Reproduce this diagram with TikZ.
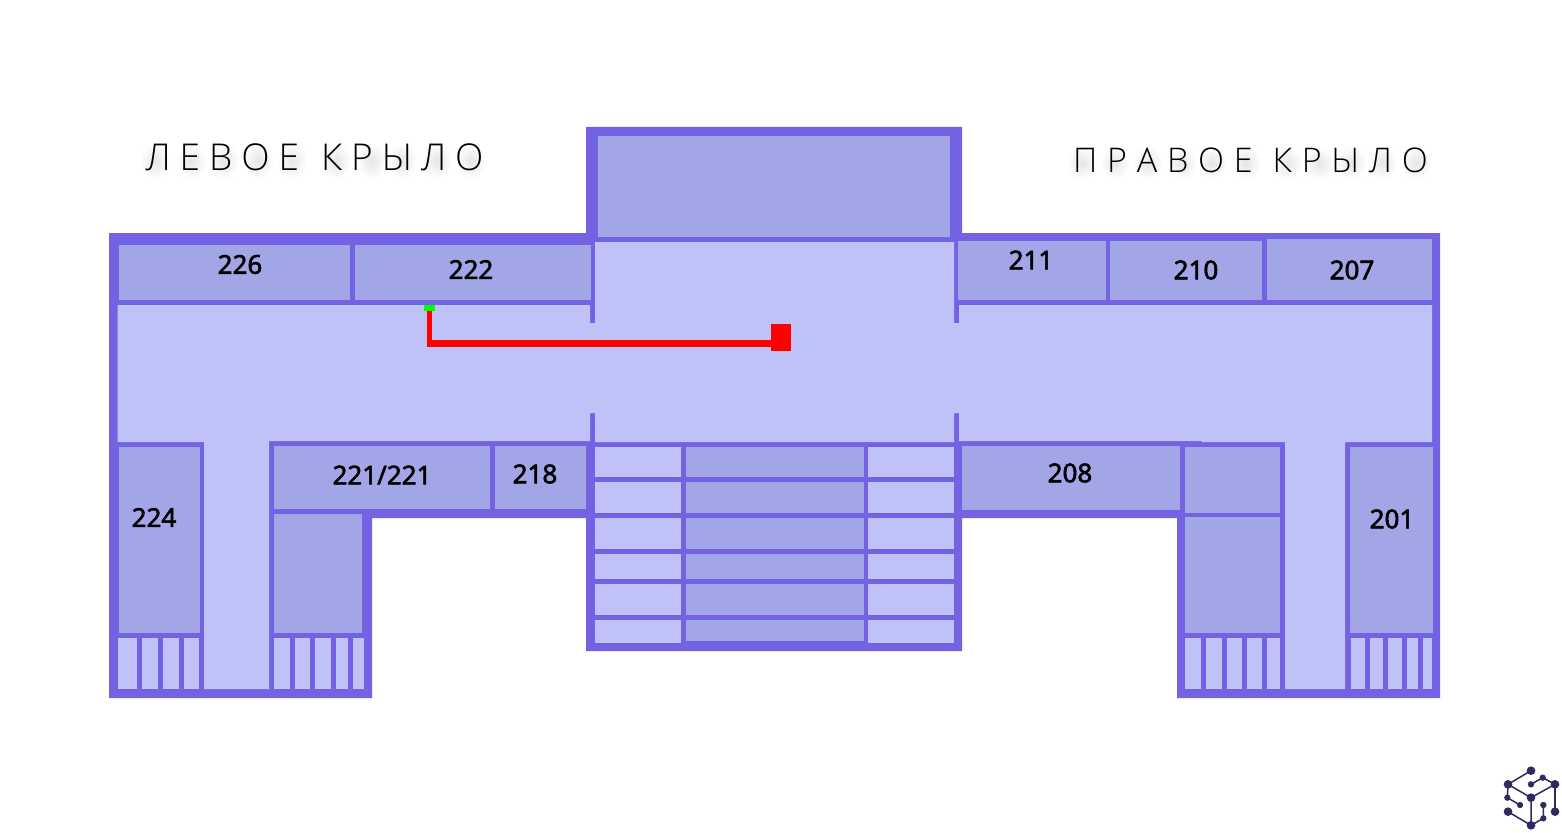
\documentclass[tikz,border=0pt]{standalone}
\usepackage{fontspec}
\setmainfont{Noto Sans}
\newfontfamily\labfont{Noto Sans}
\newfontfamily\headfont{Open Sans Light}
\newcommand{\leftset}{\spaceskip=9pt\relax}
\newcommand{\rightset}{\spaceskip=9.8pt\relax}
\newcommand{\medium}[1]{\special{pdf:code q 2 Tr 0.55 w 0 0 0 RG}#1\special{pdf:code Q}}
\definecolor{wallc}{HTML}{7363E3}
\definecolor{corrc}{HTML}{BFC2F7}
\definecolor{roomc}{HTML}{A3A6E6}
\definecolor{logoc}{HTML}{2E2B5F}
\tikzset{
  roomfill/.style={fill=roomc},
  corrfill/.style={fill=corrc},
  roomlabel/.style={inner sep=0pt,font=\labfont\fontsize{26}{26}\selectfont,text=black},
  wing/.style={inner sep=0pt,text=black},
  logoedge/.style={draw=logoc,line width=1.5pt},
}
\begin{document}
\begin{tikzpicture}[x=1pt,y=-1pt]
\useasboundingbox (0,0) rectangle (1562,832);
\fill[white] (0,0) rectangle (1562,832);
% walls
\fill[wallc] (109,233) -- (586,233) -- (586,127) -- (962,127) -- (962,233) -- (1440,233) -- (1440,698) -- (1177,698) -- (1177,518) -- (962,518) -- (962,651) -- (586,651) -- (586,518) -- (372,518) -- (372,698) -- (109,698) -- cycle;
% corridor
\fill[corrfill] (117.5,305) -- (590,305) -- (590,323) -- (595,323) -- (595,242) -- (954,242) -- (954,323) -- (959,323) -- (959,305) -- (1432,305) -- (1432,442) -- (1345,442) -- (1345,689) -- (1285,689) -- (1285,442) -- (1202,442) -- (1202,441) -- (959,441) -- (959,413) -- (954,413) -- (954,442) -- (595,442) -- (595,413) -- (590,413) -- (590,441) -- (269,441) -- (269,689) -- (204,689) -- (204,442) -- (117.5,442) -- cycle;
% rooms
\foreach \a/\b/\c/\d in {598/136/950/237,119/245/350/300,355/245/591/300,958/241/1106/300,1110/241/1262/300,1267/239/1432/300,
 119/447/200/633,274/446/490/509,495/446/586/509,274/514/362/633,962/446/1180/510,1185/447/1280/513,1185/517/1280/633,1350/447/1433/633,
 685.5/447/864/477,685.5/482/864/513,685.5/518/864/549,685.5/554/864/579,685.5/584/864/615,685.5/620/864/641}
  \fill[roomfill] (\a,\b) rectangle (\c,\d);
% stair cells left and right of the middle column
\foreach \b/\d in {447/477,482/513,518/549,554/579,584/615,620/643}{
  \fill[corrfill] (595,\b) rectangle (681,\d);
  \fill[corrfill] (868,\b) rectangle (954,\d);
}
% narrow cells at the wing ends
\foreach \a/\c in {117.5/137,142/158,163/179,184/199,274/290,295/310,315/331,336/348,353/364,1185/1201,1206/1222,1227/1242,1247/1262,1267/1280,1351/1365,1370/1383,1388/1402,1407/1418,1423/1432}
  \fill[corrfill] (\a,638) rectangle (\c,689);
% soft shadows of the headings
\foreach \x in {156,192,225,259,293,337,372,403,438,472}
  \shade[inner color=black!10,outer color=white] (\x-1,161) ellipse (15 and 18);
\foreach \x in {1083,1116,1149,1183,1213,1247,1288,1320,1352,1383,1417}
  \shade[inner color=black!10,outer color=white] (\x-1,163) ellipse (15 and 17);
% headings
\node[wing,font=\headfont\fontsize{37}{37}\selectfont] (left) at (314.5,157) {\leftset Л Е В О Е\hspace{13pt} К Р Ы Л О};
\node[wing,font=\headfont\fontsize{34}{34}\selectfont] (right) at (1250.5,160) {\rightset П Р А В О Е\hspace{10pt} К Р Ы Л О};
% labels
\node[roomlabel] (r226) at (240,264.5) {\medium{226}};
\node[roomlabel] (r222) at (471,269.5) {\medium{222}};
\node[roomlabel] (r224) at (154,517.5) {\medium{224}};
\node[roomlabel] (r221) at (382,475) {\medium{221/221}};
\node[roomlabel] (r218) at (535,474) {\medium{218}};
\node[roomlabel] (r208) at (1070,473) {\medium{208}};
\node[roomlabel] (r201) at (1392,519) {\medium{201}};
\node[roomlabel] (r211) at (1031,260) {\medium{211}};
\node[roomlabel] (r210) at (1196,270) {\medium{210}};
\node[roomlabel] (r207) at (1352,270) {\medium{207}};
% route
\node[fill=red,minimum width=20pt,minimum height=27pt,inner sep=0pt] (finish) at (781,337.5) {};
\coordinate (corner) at (429.5,347);
\coordinate (cornerb) at (427,343);
\node[fill=green,minimum width=11pt,minimum height=6pt,inner sep=0pt] (start) at (429.5,308) {};
\draw[draw=red,line width=5pt] (start.south) -- (corner);
\draw[draw=red,line width=7pt] (cornerb) -- (cornerb -| finish.west);
% logo
\begin{scope}[shift={(1490,755)},x=0.3333pt,y=-0.3333pt]
\coordinate (t) at (123,47);\coordinate (l) at (54,88);\coordinate (m) at (158,68);\coordinate (n) at (123,88);
\coordinate (r) at (195,88);\coordinate (c) at (123,128);\coordinate (p) at (52,128);\coordinate (q) at (90,150);
\coordinate (s) at (54,170);\coordinate (b) at (123,211);\coordinate (u) at (160,150);\coordinate (v) at (160,190);\coordinate (w) at (195,170);
\draw[logoedge] (t) -- (l) -- (c) -- (r) -- (m) -- (n);
\draw[logoedge] (l) -- (p) -- (q);
\draw[logoedge] (c) -- (b) -- (s);
\draw[logoedge] (b) -- (v) -- (u);
\draw[logoedge] (r) -- (w);
\foreach \k in {t,l,r,c,s,b,w} \fill[logoc] (\k) circle (13);
\foreach \k in {m,n,p,q,u,v} \fill[logoc] (\k) circle (9.5);
\end{scope}
\end{tikzpicture}
\end{document}
